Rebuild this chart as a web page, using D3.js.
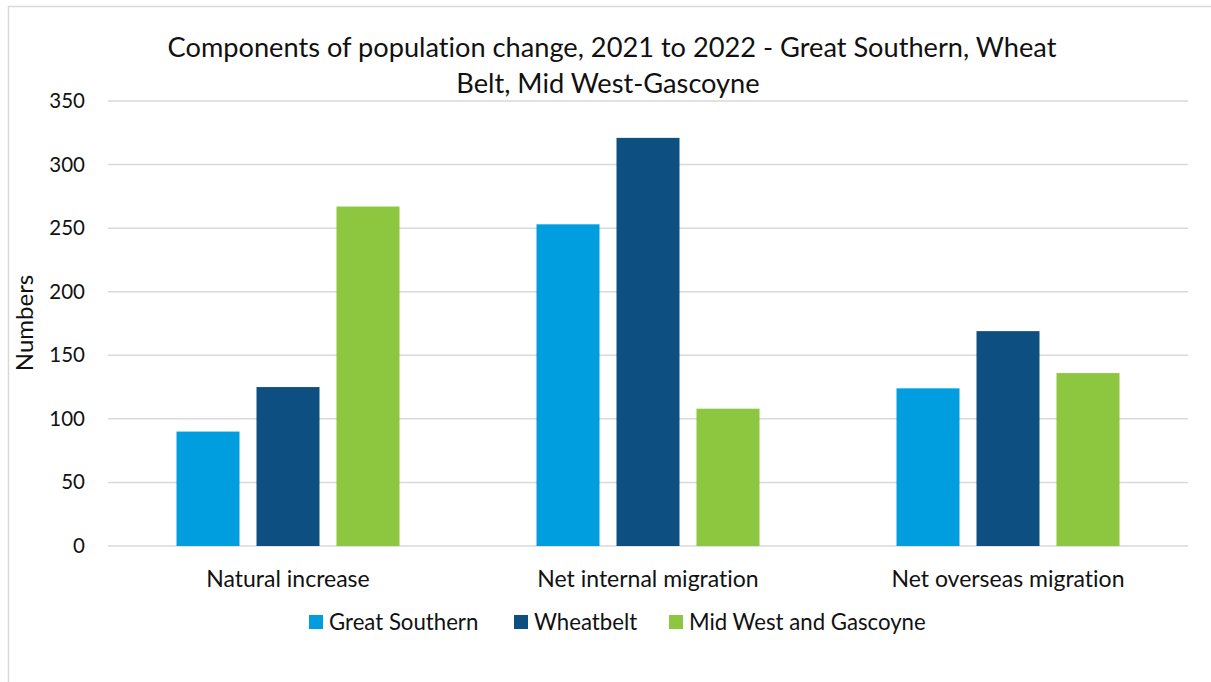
<!DOCTYPE html>
<html><head><meta charset="utf-8">
<script src="https://cdn.jsdelivr.net/npm/d3@7"></script>
<style>
html,body{margin:0;padding:0;background:#fff;}
svg{display:block;font-family:Lato,"Noto Sans",sans-serif;font-variant-ligatures:none;}
</style></head>
<body>
<svg id="chart" width="1211" height="682"></svg>
<script>
const categories = ["Natural increase", "Net internal migration", "Net overseas migration"];
const seriesNames = ["Great Southern", "Wheatbelt", "Mid West and Gascoyne"];
const greatSouthern = [90, 253, 124];
const wheatbelt = [125, 321, 169];
const midWest = [267, 108, 136];
const yTicks = [0, 50, 100, 150, 200, 250, 300, 350];
const titleLines = ["Components of population change, 2021 to 2022 - Great Southern, Wheat", "Belt, Mid West-Gascoyne"];
const colors = ["#009ddf", "#0d4f80", "#8dc63f"];
const seriesValues = [greatSouthern, wheatbelt, midWest];

(function () {
const svg = d3.select("#chart");
// outer chart-area border
svg.append("path").attr("d", "M8.5,682 L8.5,6.5 L1211,6.5").attr("fill","none").attr("stroke","#d9d9d9").attr("stroke-width",1.5);

const pLeft = 108, pRight = 1188, pTop = 101, pBottom = 546;
const y = d3.scaleLinear().domain([0, 350]).range([pBottom, pTop]);
const x0 = d3.scaleBand().domain(categories).range([pLeft, pRight]).padding(0);
const groupW = 223;
const x1 = d3.scaleBand().domain(seriesNames)
  .range([(x0.bandwidth() - groupW) / 2, (x0.bandwidth() + groupW) / 2])
  .paddingInner(17 / 80).paddingOuter(0);

// gridlines
svg.append("g").selectAll("line").data(yTicks).join("line")
  .attr("x1", pLeft).attr("x2", pRight)
  .attr("y1", d => y(d)).attr("y2", d => y(d))
  .attr("stroke", "#d9d9d9").attr("stroke-width", 1.5);

// y axis
const yAxis = d3.axisLeft(y).tickValues(yTicks).tickSize(0).tickPadding(0);
const gy = svg.append("g").attr("transform", `translate(85,0)`).call(yAxis);
gy.select(".domain").remove();
gy.selectAll("text").attr("font-size", 20.5).attr("fill", "#111").attr("font-family", "Lato");

// bars
const rows = categories.map((c, i) => ({ c, vals: seriesNames.map((s, j) => ({ s, v: seriesValues[j][i], j })) }));
const g = svg.append("g").selectAll("g").data(rows).join("g")
  .attr("transform", d => `translate(${x0(d.c)},0)`);
g.selectAll("rect").data(d => d.vals).join("rect")
  .attr("x", d => x1(d.s)).attr("width", x1.bandwidth())
  .attr("y", d => y(d.v)).attr("height", d => y(0) - y(d.v))
  .attr("fill", d => colors[d.j]);

// x axis labels
const xAxis = d3.axisBottom(x0).tickSize(0).tickPadding(0);
const gx = svg.append("g").attr("transform", `translate(0,587)`).call(xAxis);
gx.select(".domain").remove();
gx.selectAll("text").attr("font-size", 23).attr("fill", "#111").attr("font-family", "Lato").attr("dy", "0").attr("y", 0);

// y axis title
svg.append("text").attr("transform", "translate(33,323) rotate(-90)")
  .attr("text-anchor", "middle").attr("font-size", 24).attr("fill", "#111").text("Numbers");

// title
svg.append("text").attr("text-anchor", "middle").attr("font-size", 27.2).attr("fill", "#111")
  .selectAll("tspan").data(titleLines).join("tspan")
  .attr("x", (d, i) => i === 0 ? 612 : 608).attr("y", (d, i) => 57 + i * 36).text(d => d);

// legend
const legendX = [309, 514, 669];
const lg = svg.append("g").selectAll("g").data(seriesNames).join("g")
  .attr("transform", (d, i) => `translate(${legendX[i]},615)`);
lg.append("rect").attr("width", 14).attr("height", 14).attr("fill", (d, i) => colors[i]);
lg.append("text").attr("x", 20).attr("y", 7).attr("dy", "0.35em").attr("font-size", 22.2).attr("fill", "#111").text(d => d);
})();
</script>
</body></html>
